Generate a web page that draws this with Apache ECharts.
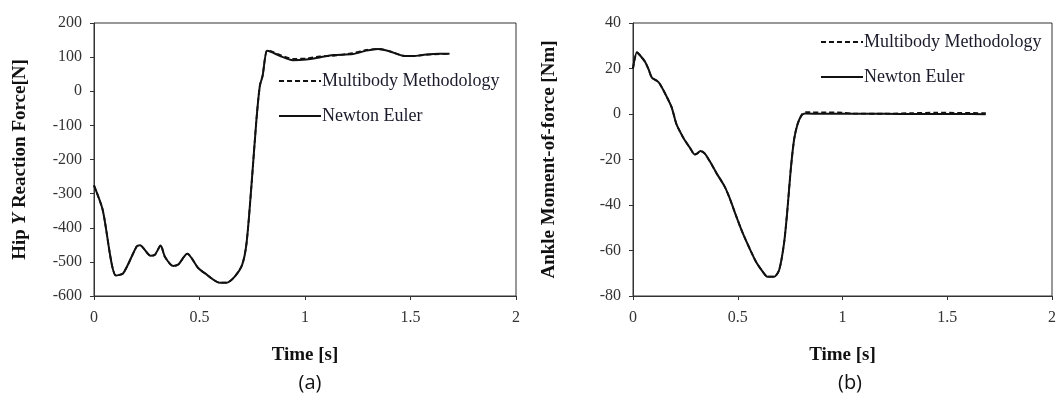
<!DOCTYPE html>
<html><head><meta charset="utf-8">
<script src="https://cdn.jsdelivr.net/npm/echarts@6/dist/echarts.min.js"></script>
<style>html,body{margin:0;padding:0;background:#fff}#c{width:1059px;height:403px}</style>
</head><body><div id="c"></div>
<script>
// Panel (a): Hip Y reaction force [N]
const timeA = [0,0.041,0.104,0.139,0.202,0.218,0.268,0.289,0.316,0.336,0.375,0.399,0.442,0.494,0.525,0.596,0.628,0.667,0.702,0.723,0.746,0.770,0.786,0.799,0.820,0.841,0.880,0.943,1.006,1.069,1.133,1.227,1.291,1.346,1.401,1.464,1.511,1.575,1.638,1.685];
const newtonA = [-276,-347,-540,-533,-455,-451,-482,-479,-452,-485,-512,-508,-476,-518,-533,-561,-561,-543,-509,-445,-278,-82,16,45,119,115,104,91,93,99,106,109,119,124,117,104,103,108,110,110];
const multibodyA = [-276,-347,-540,-533,-455,-451,-482,-479,-452,-485,-512,-508,-476,-518,-533,-561,-561,-543,-509,-445,-278,-82,16,45,119,117,107,95,96,102,104,112,121,124,117,104,103,107,109,110];
// Panel (b): Ankle moment-of-force [Nm]
const timeB = [0,0.019,0.035,0.058,0.074,0.090,0.114,0.129,0.161,0.185,0.208,0.240,0.272,0.295,0.306,0.322,0.343,0.366,0.398,0.437,0.461,0.493,0.524,0.556,0.587,0.619,0.642,0.674,0.698,0.721,0.737,0.753,0.769,0.785,0.805,0.824,0.9,1.0,1.05,1.2,1.33,1.45,1.55,1.684];
const newtonB = [20,27.1,25.6,22.9,19.7,16,14.6,13.1,7.6,2.8,-4.6,-10.4,-14.9,-17.8,-17.4,-16.3,-17.4,-20.7,-25.9,-31.8,-36.9,-45.0,-52.4,-59.0,-64.9,-69.3,-71.5,-71.5,-68.5,-56.8,-42.1,-24.4,-11.2,-4.6,-0.6,0.2,0.1,0.1,0.1,0.1,0,0,0,-0.1];
const multibodyB = [20,27.1,25.6,22.9,19.7,16,14.6,13.1,7.6,2.8,-4.6,-10.4,-14.9,-17.8,-17.4,-16.3,-17.4,-20.7,-25.9,-31.8,-36.9,-45.0,-52.4,-59.0,-64.9,-69.3,-71.5,-71.5,-68.5,-56.8,-42.1,-24.4,-11.2,-4.6,-0.3,0.8,0.7,0.6,0.2,0.1,0.4,0.6,0.5,0.4];
const xTicks = [0,0.5,1,1.5,2];

const pair = (t, v) => t.map((x, i) => [x, v[i]]);
const serifF = "'Liberation Serif', 'Times New Roman', serif";
const tickLbl = {fontFamily: serifF, fontSize: 16, color: '#333'};
const axisNameStyle = {fontFamily: serifF, fontSize: 19, fontWeight: 'bold', color: '#111'};

function xAxis(gi) {
  return {gridIndex: gi, type: 'value', min: 0, max: 2, interval: 0.5,
    name: 'Time [s]', nameLocation: 'middle', nameGap: 50, nameTextStyle: axisNameStyle,
    axisLine: {show: true, onZero: false, lineStyle: {color: '#333', width: 1}},
    axisTick: {show: true, length: 4, lineStyle: {color: '#333'}},
    splitLine: {show: false},
    axisLabel: Object.assign({margin: 14, formatter: v => xTicks.includes(v) ? String(v) : ''}, tickLbl)};
}
function yAxis(gi, min, max, interval, name, gap, rich) {
  return {gridIndex: gi, type: 'value', min, max, interval,
    name, nameLocation: 'middle', nameGap: gap,
    nameTextStyle: Object.assign({rich: rich || {}}, axisNameStyle),
    axisLine: {show: true, lineStyle: {color: '#333', width: 1}},
    axisTick: {show: true, length: 4, lineStyle: {color: '#333'}},
    splitLine: {show: false},
    axisLabel: Object.assign({margin: 12}, tickLbl)};
}
const lineS = (name, gi, data, dashed, z) => ({
  name, type: 'line', xAxisIndex: gi, yAxisIndex: gi, data, symbol: 'none', smooth: 0.25, z,
  lineStyle: {color: '#111', width: dashed ? 1.8 : 2, type: dashed ? [5, 3] : 'solid'},
  itemStyle: {color: '#111'}
});

const chart = echarts.init(document.getElementById('c'), null, {renderer: 'canvas'});
const legendBase = {orient: 'vertical', padding: 0, itemWidth: 42, itemHeight: 12, itemGap: 17,
  itemStyle: {opacity: 0},
  textStyle: {fontFamily: serifF, fontSize: 18, color: '#1a1a2a', padding: [0,0,0,-4]},
  data: ['Multibody Methodology', 'Newton Euler'], selectedMode: false};
chart.setOption({
  animation: false,
  backgroundColor: '#fff',
  title: [
    {text: '(a)', left: 305, top: 368, textAlign: 'center', textStyle: {fontFamily: "'Open Sans', 'Noto Sans', sans-serif", fontSize: 20, fontWeight: 'normal', color: '#111'}},
    {text: '(b)', left: 845, top: 368, textAlign: 'center', textStyle: {fontFamily: "'Open Sans', 'Noto Sans', sans-serif", fontSize: 20, fontWeight: 'normal', color: '#111'}}
  ],
  grid: [
    {left: 94, right: 543, top: 23, height: 273, show: true, borderColor: '#333', borderWidth: 1, backgroundColor: '#fff'},
    {left: 633, right: 4, top: 23, height: 273, show: true, borderColor: '#333', borderWidth: 1, backgroundColor: '#fff'}
  ],
  legend: [
    Object.assign({left: 278, top: 72}, legendBase),
    Object.assign({left: 820, top: 33}, legendBase)
  ],
  xAxis: [xAxis(0), xAxis(1)],
  yAxis: [
    yAxis(0, -600, 200, 100, '{b|Hip }{i|Y}{b| Reaction Force[N]}', 64,
      {b: axisNameStyle, i: Object.assign({}, axisNameStyle, {fontStyle: 'italic'})}),
    yAxis(1, -80, 40, 20, 'Ankle Moment-of-force [Nm]', 74)
  ],
  series: [
    lineS('Multibody Methodology', 0, pair(timeA, multibodyA), true, 2),
    lineS('Newton Euler', 0, pair(timeA, newtonA), false, 3),
    lineS('Multibody Methodology', 1, pair(timeB, multibodyB), true, 2),
    lineS('Newton Euler', 1, pair(timeB, newtonB), false, 3)
  ]
});
</script></body></html>
